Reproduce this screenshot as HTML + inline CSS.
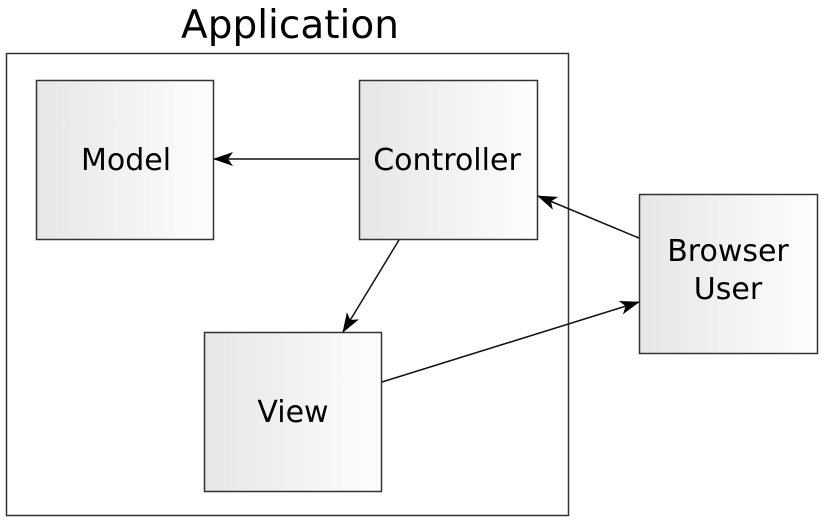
<!DOCTYPE html>
<html><head><style>body{margin:0;background:#fff}svg{display:block}</style></head>
<body>
<svg width="828" height="523" xmlns="http://www.w3.org/2000/svg" font-family="DejaVu Sans, Liberation Sans, sans-serif">
<defs>
<linearGradient id="g" x1="0" x2="1" y1="0" y2="0"><stop offset="0" stop-color="#e6e6e6"/><stop offset="1" stop-color="#fefefe"/></linearGradient>
<marker id="a" viewBox="0 0 20 14" refX="19" refY="7" markerWidth="20" markerHeight="14" markerUnits="userSpaceOnUse" orient="auto"><path d="M0,0 L20,7 L0,14 L5,7 Z" fill="#000"/></marker>
</defs>
<text x="290" y="38" font-size="39" text-anchor="middle" fill="#000">Application</text>
<rect x="6.5" y="53.5" width="562" height="462" fill="none" stroke="#333" stroke-width="1.5"/>
<g stroke="#333" stroke-width="1.5" fill="url(#g)">
<rect x="36.5" y="80.5" width="177" height="159"/>
<rect x="359.5" y="80.5" width="178" height="159"/>
<rect x="204.5" y="332.5" width="177" height="159"/>
<rect x="639.5" y="194.5" width="178" height="159"/>
</g>
<g stroke="#111" stroke-width="1.5" fill="none" marker-end="url(#a)">
<line x1="359" y1="159" x2="214" y2="159"/>
<line x1="399" y1="240" x2="343" y2="332"/>
<line x1="639" y1="238" x2="538" y2="196"/>
<line x1="382" y1="382" x2="639" y2="302"/>
</g>
<g font-size="30" text-anchor="middle" fill="#000">
<text x="126" y="170">Model</text>
<text x="447" y="170">Controller</text>
<text x="293" y="422">View</text>
<text x="728" y="261">Browser</text>
<text x="728" y="299">User</text>
</g>
</svg>
</body></html>
